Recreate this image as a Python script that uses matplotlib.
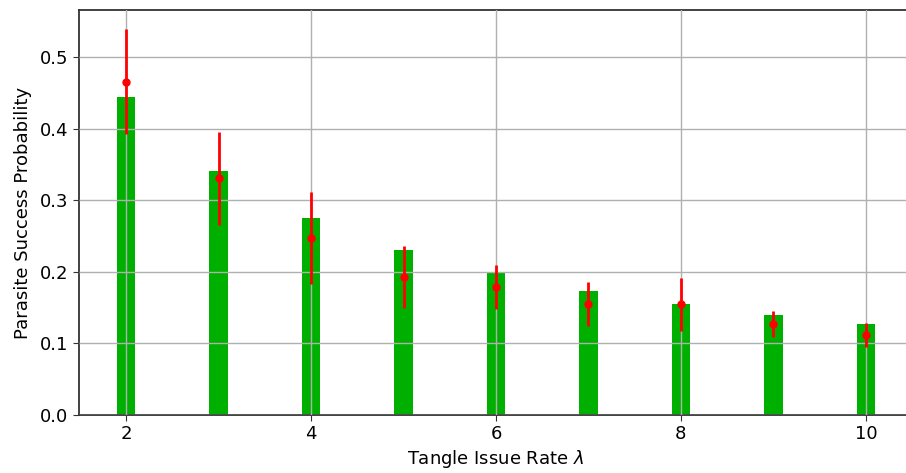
import matplotlib
matplotlib.use("Agg")
import matplotlib.pyplot as plt

rates = [2, 3, 4, 5, 6, 7, 8, 9, 10]
bar_vals = [0.445, 0.341, 0.275, 0.230, 0.198, 0.173, 0.155, 0.140, 0.127]
sim_means = [0.466, 0.331, 0.247, 0.193, 0.179, 0.155, 0.155, 0.127, 0.112]
sim_errs = [0.073, 0.065, 0.064, 0.043, 0.031, 0.031, 0.037, 0.018, 0.017]

fig = plt.figure(figsize=(9.06, 4.73), dpi=100)
ax = fig.add_axes([0.0872, 0.1226, 0.9205, 0.8562])

ax.bar(rates, bar_vals, width=0.2, color="#00b000", zorder=1)
ax.grid(True, color="#b0b0b0", lw=1.0, zorder=2)
ax.set_axisbelow(False)
ax.errorbar(rates, sim_means, yerr=sim_errs, fmt="o", color="red",
            ms=5, elinewidth=2, capsize=0, zorder=3)

ax.set_xlim(1.49, 10.51)
ax.set_ylim(0, 0.566)
ax.set_xticks([2, 4, 6, 8, 10])
ax.set_yticks([0.0, 0.1, 0.2, 0.3, 0.4, 0.5])
for s in ax.spines.values():
    s.set_color("#333333")
    s.set_linewidth(1.3)
ax.spines["right"].set_visible(False)  # cut off at the image edge in the original
ax.tick_params(labelsize=13, color="#333333", length=4)
ax.set_xlabel(r"Tangle Issue Rate $\lambda$", fontsize=13, labelpad=3)
ax.set_ylabel("Parasite Success Probability", fontsize=13, labelpad=6)

fig.savefig("out.png", dpi=100)
